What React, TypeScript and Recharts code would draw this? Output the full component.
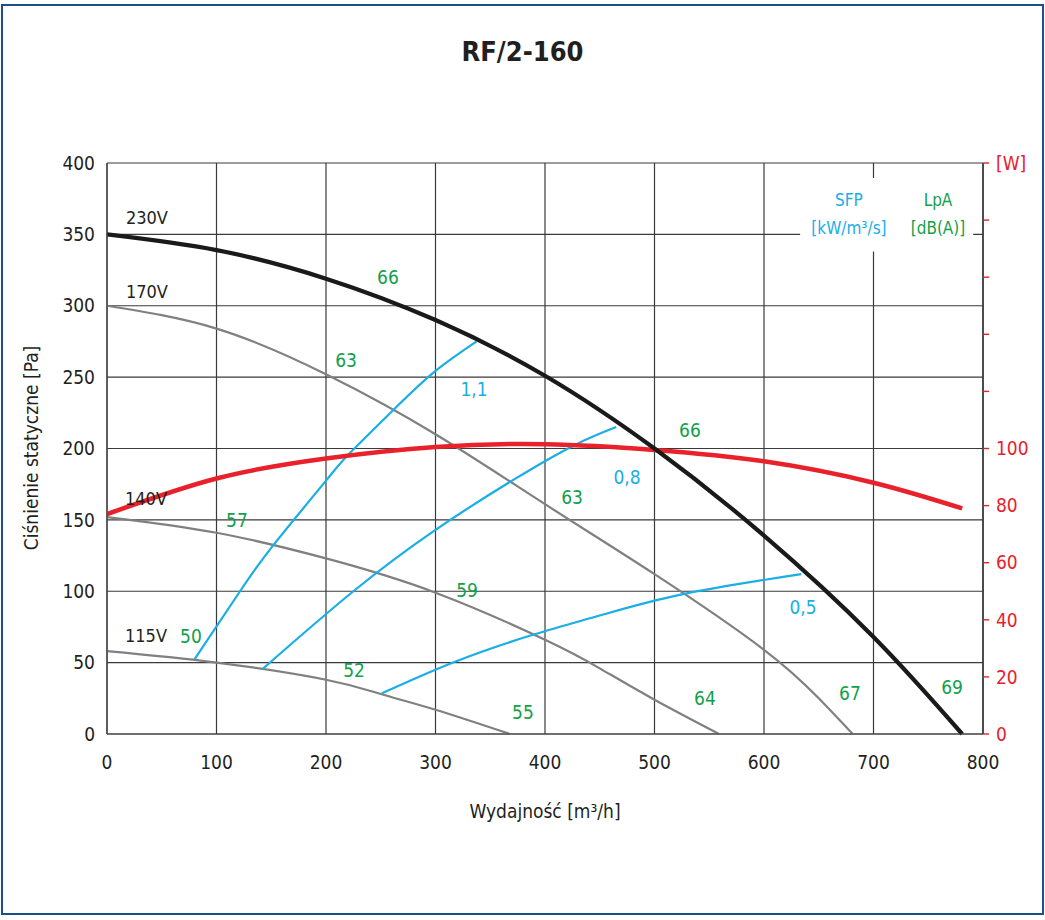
import * as React from 'react';
import {
  LineChart,
  Line,
  XAxis,
  YAxis,
  CartesianGrid,
  ReferenceDot,
  ReferenceArea,
} from 'recharts';

// fan curves: airflow [m3/h] -> static pressure [Pa]
const curve230V = [
  { x: 0, y: 350 }, { x: 100, y: 339 }, { x: 200, y: 319 }, { x: 300, y: 290 },
  { x: 400, y: 251 }, { x: 500, y: 200 }, { x: 600, y: 139 }, { x: 700, y: 68 },
  { x: 781, y: 0 },
];
const curve170V = [
  { x: 0, y: 300 }, { x: 100, y: 284 }, { x: 200, y: 252 }, { x: 300, y: 210 },
  { x: 400, y: 161 }, { x: 500, y: 112 }, { x: 600, y: 59 }, { x: 650, y: 25 },
  { x: 681, y: 0 },
];
const curve140V = [
  { x: 0, y: 152 }, { x: 100, y: 141 }, { x: 200, y: 123 }, { x: 300, y: 99 },
  { x: 400, y: 66 }, { x: 450, y: 46 }, { x: 500, y: 24 }, { x: 559, y: 0 },
];
const curve115V = [
  { x: 0, y: 58 }, { x: 100, y: 50 }, { x: 200, y: 38 }, { x: 250, y: 28 },
  { x: 300, y: 17 }, { x: 368, y: 0 },
];

// power consumption [W] (right axis)
const power = [
  { x: 0, w: 77 }, { x: 100, w: 89.5 }, { x: 200, w: 96.5 }, { x: 300, w: 100.5 },
  { x: 400, w: 101.5 }, { x: 500, w: 99.5 }, { x: 600, w: 95.5 }, { x: 700, w: 88 },
  { x: 781, w: 79 },
];

// SFP lines [kW/m3/s]
const sfp11 = [
  { x: 80, y: 52.5 }, { x: 121.5, y: 100 }, { x: 151.6, y: 132 }, { x: 200.6, y: 178 },
  { x: 222, y: 197 }, { x: 261.5, y: 227 }, { x: 299.5, y: 254 }, { x: 337.6, y: 275 },
];
const sfp08 = [
  { x: 142, y: 45.5 }, { x: 225, y: 100 }, { x: 300, y: 143 }, { x: 371, y: 178 },
  { x: 426, y: 202 }, { x: 465, y: 215 },
];
const sfp05 = [
  { x: 251, y: 28.5 }, { x: 319, y: 51 }, { x: 389, y: 69.5 }, { x: 450, y: 83 },
  { x: 526, y: 98 }, { x: 634, y: 112 },
];

const xTicks = [0, 100, 200, 300, 400, 500, 600, 700, 800];
const yTicks = [0, 50, 100, 150, 200, 250, 300, 350, 400];
const wTicks = [0, 20, 40, 60, 80, 100, 120, 140, 160, 180, 200];

const voltageLabels = [
  { x: 36.5, y: 362, text: '230V' },
  { x: 36.5, y: 310, text: '170V' },
  { x: 35.6, y: 164.6, text: '140V' },
  { x: 35.6, y: 68.7, text: '115V' },
];
const lpaLabels = [
  { x: 256.6, y: 320, text: '66' },
  { x: 218.3, y: 262, text: '63' },
  { x: 532.4, y: 213, text: '66' },
  { x: 424.7, y: 166, text: '63' },
  { x: 118.7, y: 150, text: '57' },
  { x: 328.8, y: 101, text: '59' },
  { x: 76.7, y: 68.7, text: '50' },
  { x: 225.6, y: 44.8, text: '52' },
  { x: 379.9, y: 15.4, text: '55' },
  { x: 546.1, y: 25.2, text: '64' },
  { x: 678.5, y: 28.7, text: '67' },
  { x: 771.7, y: 32.9, text: '69' },
];
const sfpLabels = [
  { x: 335.2, y: 241.7, text: '1,1' },
  { x: 474.9, y: 180, text: '0,8' },
  { x: 635.6, y: 89, text: '0,5' },
];
const headerLabels = [
  { x: 677.6, y: 374, text: 'SFP', color: '#19aee6' },
  { x: 677.6, y: 354.5, text: '[kW/m³/s]', color: '#19aee6' },
  { x: 758.9, y: 374, text: 'LpA', color: '#12a04a' },
  { x: 758.9, y: 354.5, text: '[dB(A)]', color: '#12a04a' },
];

const FONT = "'Liberation Sans Narrow', 'DejaVu Sans Condensed', Roboto, sans-serif";
const BLUE = '#19aee6';
const GREEN = '#12a04a';
const RED = '#e8212b';
const TEXT = '#231f20';

const tagDot = (l: { x: number; y: number; text: string }, color: string, size: number, key: string) => (
  <ReferenceDot
    key={key}
    yAxisId="left"
    x={l.x}
    y={l.y}
    r={0}
    fill="none"
    stroke="none"
    ifOverflow="visible"
    label={{ value: l.text, position: 'center', fill: color, fontSize: size, fontFamily: FONT }}
  />
);

export default function App(): React.JSX.Element {
  return (
    <div style={{ position: 'absolute', left: 0, top: 0, width: 1045, height: 920, background: '#fff', fontFamily: FONT }}>
      <div
        style={{
          position: 'absolute',
          left: 1,
          top: 4,
          width: 1039,
          height: 907,
          border: '2px solid #1a4f8b',
        }}
      />
      <div
        style={{
          position: 'absolute',
          left: 0,
          width: 1045,
          top: 36,
          textAlign: 'center',
          fontSize: 27,
          fontWeight: 600,
          color: TEXT,
        }}
      >
        RF/2-160
      </div>
      <div
        style={{
          position: 'absolute',
          left: 545,
          top: 811,
          transform: 'translate(-50%, -50%)',
          fontSize: 19,
          color: TEXT,
          whiteSpace: 'nowrap',
        }}
      >
        Wydajność [m³/h]
      </div>
      <div
        style={{
          position: 'absolute',
          left: 31,
          top: 448,
          transform: 'translate(-50%, -50%) rotate(-90deg)',
          fontSize: 19,
          color: TEXT,
          whiteSpace: 'nowrap',
        }}
      >
        Ciśnienie statyczne [Pa]
      </div>
      <div style={{ position: 'absolute', left: 0, top: 0 }}>
        <LineChart width={1045} height={920} margin={{ top: 163, right: 2, left: 47, bottom: 146 }}>
          <CartesianGrid yAxisId="left" stroke="#3a3a3a" strokeWidth={1.2} />
          <XAxis
            type="number"
            dataKey="x"
            domain={[0, 800]}
            ticks={xTicks}
            allowDataOverflow
            height={40}
            tickLine={false}
            tickMargin={16}
            axisLine={{ stroke: '#444', strokeWidth: 1.2 }}
            tick={{ fill: TEXT, fontSize: 19, fontFamily: FONT }}
          />
          <YAxis
            yAxisId="left"
            type="number"
            domain={[0, 400]}
            ticks={yTicks}
            width={60}
            tickLine={false}
            tickMargin={6}
            axisLine={{ stroke: '#444', strokeWidth: 1.2 }}
            tick={{ fill: TEXT, fontSize: 19, fontFamily: FONT }}
          />
          <YAxis
            yAxisId="right"
            orientation="right"
            type="number"
            domain={[0, 200]}
            ticks={wTicks}
            width={60}
            tickSize={6}
            tickMargin={7}
            axisLine={{ stroke: '#333', strokeWidth: 1.4 }}
            tickLine={{ stroke: RED, strokeWidth: 1.4 }}
            tick={{ fill: RED, fontSize: 19, fontFamily: FONT }}
            tickFormatter={(v: number) => (v <= 100 ? String(v) : v === 200 ? '[W]' : '')}
          />
          <ReferenceArea
            yAxisId="left"
            x1={633}
            x2={791}
            y1={338}
            y2={389.5}
            fill="#fff"
            fillOpacity={1}
            stroke="none"
          />
          <Line yAxisId="left" data={curve115V} dataKey="y" type="natural" stroke="#808080" strokeWidth={2.2} dot={false} isAnimationActive={false} />
          <Line yAxisId="left" data={curve140V} dataKey="y" type="natural" stroke="#808080" strokeWidth={2.2} dot={false} isAnimationActive={false} />
          <Line yAxisId="left" data={curve170V} dataKey="y" type="natural" stroke="#808080" strokeWidth={2.2} dot={false} isAnimationActive={false} />
          <Line yAxisId="left" data={sfp11} dataKey="y" type="natural" stroke={BLUE} strokeWidth={2.2} dot={false} isAnimationActive={false} />
          <Line yAxisId="left" data={sfp08} dataKey="y" type="natural" stroke={BLUE} strokeWidth={2.2} dot={false} isAnimationActive={false} />
          <Line yAxisId="left" data={sfp05} dataKey="y" type="natural" stroke={BLUE} strokeWidth={2.2} dot={false} isAnimationActive={false} />
          <Line yAxisId="right" data={power} dataKey="w" type="natural" stroke={RED} strokeWidth={4.5} dot={false} isAnimationActive={false} />
          <Line yAxisId="left" data={curve230V} dataKey="y" type="natural" stroke="#1a1a1a" strokeWidth={4.2} dot={false} isAnimationActive={false} />
          {voltageLabels.map((l, i) => tagDot(l, TEXT, 18, 'v' + i))}
          {lpaLabels.map((l, i) => tagDot(l, GREEN, 19, 'g' + i))}
          {sfpLabels.map((l, i) => tagDot(l, BLUE, 19, 'b' + i))}
          {headerLabels.map((l, i) => tagDot(l, l.color, 17, 'h' + i))}
        </LineChart>
      </div>
    </div>
  );
}
